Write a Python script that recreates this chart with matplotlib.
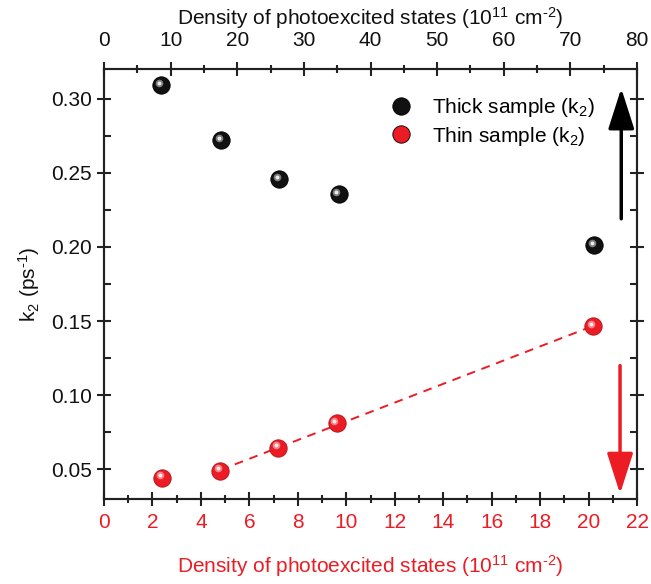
import numpy as np
import matplotlib
matplotlib.use("Agg")
import matplotlib.pyplot as plt
from matplotlib.lines import Line2D
from matplotlib.legend_handler import HandlerTuple
import matplotlib.transforms as mtransforms

plt.rcParams['font.family'] = ['Liberation Sans', 'DejaVu Sans']
plt.rcParams['mathtext.fontset'] = 'custom'
plt.rcParams['mathtext.rm'] = 'Liberation Sans'
plt.rcParams['mathtext.it'] = 'Liberation Sans'
plt.rcParams['mathtext.default'] = 'regular'

# Data
thin_x = [2.4, 4.8, 7.2, 9.6, 20.2]          # bottom axis (10^11 cm^-2)
thin_k2 = [0.0445, 0.0490, 0.0645, 0.0810, 0.1465]
thick_x = [8.6, 17.6, 26.3, 35.2, 73.6]      # top axis (10^11 cm^-2)
thick_k2 = [0.309, 0.272, 0.2455, 0.2355, 0.201]
fit_idx = [1, 2, 3, 4]

RED = '#ec1c24'
DARK = '#111111'
XLABEL = 'Density of photoexcited states (10$^{11}$ cm$^{\u20102}$)'

fig = plt.figure(figsize=(6.51, 5.84), dpi=100)
ax = fig.add_axes([0.1598, 0.1455, 0.8187, 0.7363])
ax2 = ax.twiny()

ax.set_xlim(0, 22)
ax.set_ylim(0.03, 0.32)
ax2.set_xlim(0, 80)

def sphere(axis, x, y, base, edge, zorder=5):
    axis.plot(x, y, 'o', ms=12.5, mfc=base, mec=edge, mew=0.6, ls='none', zorder=zorder, clip_on=False)
    off = mtransforms.offset_copy(axis.transData, fig=fig, x=-1.8, y=1.8, units='points')
    axis.plot(x, y, 'o', ms=5.5, mfc='white', mec='none', alpha=0.45, ls='none',
              transform=off, zorder=zorder + 1, clip_on=False)
    axis.plot(x, y, 'o', ms=2.8, mfc='white', mec='none', alpha=0.85, ls='none',
              transform=off, zorder=zorder + 2, clip_on=False)

# fit line for thin sample
fx = np.array([thin_x[i] for i in fit_idx])
fy = np.array([thin_k2[i] for i in fit_idx])
p = np.polyfit(fx, fy, 1)
xx = np.array([fx.min(), fx.max()])
ax.plot(xx, np.polyval(p, xx), ls=(0, (4.5, 3.5)), color=RED, lw=1.4, zorder=3)

sphere(ax, thin_x, thin_k2, RED, '#b0101a')
sphere(ax2, thick_x, thick_k2, DARK, '#000000')

# arrows
ax.annotate('', xy=(21.35, 0.307), xytext=(21.35, 0.219),
            arrowprops=dict(arrowstyle='-|>,head_length=2.5,head_width=0.8', mutation_scale=10,
                            lw=2.5, color='black', shrinkA=0, shrinkB=0))
ax.annotate('', xy=(21.3, 0.0335), xytext=(21.3, 0.120),
            arrowprops=dict(arrowstyle='-|>,head_length=2.5,head_width=0.8', mutation_scale=10,
                            lw=2.5, color=RED, shrinkA=0, shrinkB=0))

# ticks
ax.set_xticks(np.arange(0, 23, 2))
ax.set_xticks(np.arange(1, 22, 2), minor=True)
ax.set_yticks([0.05, 0.10, 0.15, 0.20, 0.25, 0.30])
ax.set_yticks(np.arange(0.075, 0.32, 0.05), minor=True)
ax.set_yticklabels(['0.05', '0.10', '0.15', '0.20', '0.25', '0.30'])
ax2.set_xticks(np.arange(0, 81, 10))
ax2.set_xticks(np.arange(5, 80, 10), minor=True)

for a in (ax, ax2):
    for s in a.spines.values():
        s.set_linewidth(1.5)
        s.set_color('#222222')

ax.tick_params(axis='x', which='major', direction='inout', length=10, width=1.5, colors='#222222',
               labelcolor=RED, labelsize=15, pad=5)
ax.tick_params(axis='x', which='minor', direction='inout', length=6, width=1.5, colors='#222222')
ax.tick_params(axis='y', which='major', direction='inout', length=10, width=1.5, colors='#222222',
               labelsize=15, labelcolor='#111111', right=True)
ax.tick_params(axis='y', which='minor', direction='in', length=5, width=1.5, colors='#222222', right=True)
ax2.tick_params(axis='x', which='major', direction='inout', length=10, width=1.5, colors='#222222',
                labelsize=15, labelcolor='#111111', pad=9)
ax2.tick_params(axis='x', which='minor', direction='inout', length=6, width=1.5, colors='#222222')

ax.set_xlabel(XLABEL, color=RED, fontsize=15, labelpad=15)
ax2.set_xlabel(XLABEL, color='#111111', fontsize=15, labelpad=4)
ax.set_ylabel('k$_2$ (ps$^{\u20101}$)', fontsize=15, color='#111111', labelpad=7)

# legend
def hnd(base):
    return (Line2D([], [], marker='o', ls='none', ms=12.5, mfc=base, mec='black', mew=0.6),
            Line2D([], [], marker='o', ls='none', ms=3.5, mfc='white', mec='none', alpha=0.8))
leg = ax2.legend([hnd(DARK), hnd(RED)], ['Thick sample (k$_2$)', 'Thin sample (k$_2$)'],
                 handler_map={tuple: HandlerTuple(ndivide=None, pad=0)},
                 loc='upper left', bbox_to_anchor=(0.51, 0.98), frameon=False, fontsize=15,
                 handletextpad=0.6, labelspacing=0.25, handlelength=1.2)

fig.savefig('out.png', dpi=100)
